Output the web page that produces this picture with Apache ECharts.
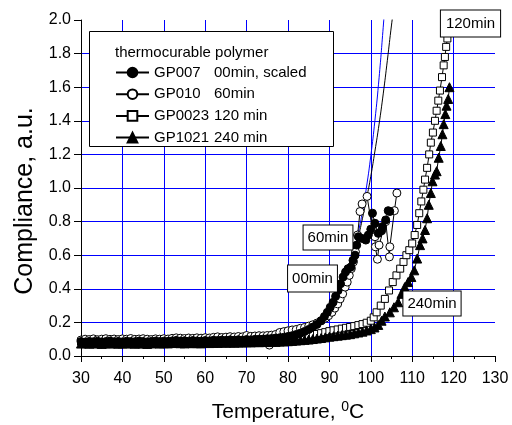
<!DOCTYPE html>
<html><head><meta charset="utf-8">
<script src="https://cdn.jsdelivr.net/npm/echarts/dist/echarts.min.js"></script>
<style>html,body{margin:0;padding:0;background:#fff}#c{width:512px;height:425px}</style>
</head><body><div id="c"></div>
<script>
const seriesNames = ['GP007', 'GP010', 'GP0023', 'GP1021'];
const seriesNotes = ['00min, scaled', '60min', '120 min', '240 min'];
const legendTitle = 'thermocurable polymer';
const annotations = ['60min', '00min', '240min', '120min'];

// GP007 00min, scaled (filled circles)
const gp007 = [[30,0.086],[31,0.083],[32,0.087],[33,0.085],[34,0.088],[35,0.084],[36,0.086],[37,0.089],[38,0.085],[39,0.087],[40,0.084],[41,0.088],[42,0.086],[43,0.085],[44,0.089],[45,0.086],[46,0.084],[47,0.087],[48,0.089],[49,0.086],[50,0.088],[51,0.087],[52,0.09],[53,0.093],[54,0.089],[55,0.091],[56,0.088],[57,0.092],[58,0.09],[59,0.089],[60,0.092],[61,0.09],[62,0.094],[63,0.092],[64,0.095],[65,0.093],[66,0.096],[67,0.094],[68,0.097],[69,0.095],[70,0.098],[71,0.096],[72,0.099],[73,0.1],[74,0.101],[75,0.103],[76,0.104],[77,0.107],[78,0.109],[79,0.112],[80,0.116],[81,0.121],[82,0.128],[83,0.136],[84,0.146],[85,0.158],[86,0.172],[87,0.188],[88,0.21],[88.8,0.235],[89.5,0.26],[90.2,0.29],[90.9,0.32],[91.5,0.355],[92.1,0.39],[92.7,0.43],[93.3,0.47],[93.9,0.5],[94.5,0.52],[95.2,0.53],[95.7,0.57],[96.2,0.6],[96.6,0.66],[97,0.71],[97.9,0.7],[98.8,0.69],[99.4,0.72],[100,0.755],[100.4,0.85],[101,0.79],[101.8,0.73],[102.6,0.745],[102.8,0.77],[103.6,0.81],[104.2,0.865],[104.6,0.86]];

// GP010 60min (open circles)
const gp010 = [[30,0.095],[31,0.1],[32,0.098],[33,0.102],[34,0.097],[35,0.1],[36,0.103],[37,0.099],[38,0.101],[39,0.098],[40,0.102],[41,0.1],[42,0.104],[43,0.099],[44,0.101],[45,0.103],[46,0.1],[47,0.098],[48,0.102],[49,0.1],[50,0.103],[51,0.101],[52,0.105],[53,0.108],[54,0.106],[55,0.104],[56,0.107],[57,0.105],[58,0.108],[59,0.106],[60,0.109],[61,0.107],[62,0.111],[63,0.114],[64,0.11],[65,0.112],[66,0.115],[67,0.113],[68,0.116],[69,0.114],[70,0.122],[71,0.117],[72,0.119],[73,0.121],[74,0.12],[75,0.122],[75.5,0.065],[76,0.124],[77,0.128],[78,0.14],[79,0.145],[80,0.15],[81,0.155],[82,0.158],[83,0.165],[84,0.17],[85,0.178],[86,0.186],[87,0.196],[88,0.21],[89,0.225],[89.8,0.24],[90.6,0.26],[91.3,0.285],[92,0.31],[92.6,0.34],[93.2,0.37],[93.8,0.41],[94.3,0.44],[94.8,0.48],[95.3,0.52],[95.8,0.56],[96.3,0.62],[96.8,0.72],[97.4,0.86],[97.9,0.905],[99.1,0.95],[100.4,0.75],[101,0.71],[101.1,0.65],[101.6,0.576],[102,0.66],[103.6,0.8],[104.5,0.59],[104.6,0.65],[105.7,0.865],[106.3,0.97]];

// GP0023 120 min (open squares)
const gp0023 = [[30,0.086],[31,0.084],[32,0.087],[33,0.083],[34,0.086],[35,0.085],[36,0.088],[37,0.084],[38,0.086],[39,0.083],[40,0.087],[41,0.085],[42,0.084],[43,0.087],[44,0.085],[45,0.083],[46,0.086],[47,0.084],[48,0.087],[49,0.085],[50,0.086],[51,0.084],[52,0.087],[53,0.089],[54,0.086],[55,0.085],[56,0.088],[57,0.086],[58,0.087],[59,0.085],[60,0.088],[61,0.087],[62,0.089],[63,0.088],[64,0.09],[65,0.089],[66,0.091],[67,0.09],[68,0.092],[69,0.091],[70,0.093],[71,0.092],[72,0.094],[73,0.095],[74,0.096],[75,0.097],[76,0.098],[77,0.1],[78,0.101],[79,0.103],[80,0.105],[81,0.108],[82,0.111],[83,0.114],[84,0.118],[85,0.122],[86,0.127],[87,0.131],[88,0.136],[89,0.142],[90,0.148],[91,0.153],[92,0.158],[93,0.163],[94,0.168],[95,0.173],[96,0.178],[97,0.184],[98,0.19],[99,0.198],[100,0.21],[100.7,0.23],[101.4,0.26],[102.4,0.3],[103.4,0.34],[104.4,0.39],[105.3,0.44],[106.2,0.48],[107.1,0.52],[107.9,0.56],[108.6,0.6],[109.3,0.63],[110,0.67],[110.6,0.72],[111.2,0.78],[111.7,0.85],[112.2,0.92],[112.7,0.99],[113.1,1.05],[113.6,1.12],[114.1,1.2],[114.5,1.27],[115,1.33],[115.5,1.4],[115.9,1.46],[116.3,1.52],[116.7,1.58],[117.2,1.66],[117.6,1.73],[117.9,1.78],[118.2,1.84],[118.5,1.89]];

// GP1021 240 min (filled triangles)
const gp1021 = [[30,0.074],[31,0.077],[32,0.073],[33,0.076],[34,0.075],[35,0.072],[36,0.076],[37,0.074],[38,0.077],[39,0.073],[40,0.075],[41,0.074],[42,0.077],[43,0.073],[44,0.076],[45,0.074],[46,0.072],[47,0.075],[48,0.077],[49,0.074],[50,0.076],[51,0.075],[52,0.077],[53,0.079],[54,0.076],[55,0.075],[56,0.078],[57,0.076],[58,0.077],[59,0.075],[60,0.078],[61,0.077],[62,0.079],[63,0.078],[64,0.08],[65,0.079],[66,0.08],[67,0.079],[68,0.081],[69,0.08],[70,0.082],[71,0.081],[72,0.083],[73,0.082],[74,0.084],[75,0.083],[76,0.085],[77,0.084],[78,0.086],[79,0.087],[80,0.088],[81,0.09],[82,0.092],[83,0.094],[84,0.096],[85,0.098],[86,0.101],[87,0.104],[88,0.107],[89,0.111],[90,0.115],[91,0.118],[92,0.121],[93,0.124],[94,0.127],[95,0.13],[96,0.135],[97,0.14],[98,0.145],[99,0.152],[100,0.16],[100.9,0.17],[101.8,0.185],[102.6,0.21],[103.4,0.235],[104.6,0.26],[105.6,0.29],[106.6,0.32],[107.4,0.37],[108.2,0.41],[109,0.44],[109.8,0.47],[110.5,0.51],[111.2,0.58],[111.9,0.66],[112.5,0.7],[113.1,0.75],[113.6,0.82],[114,0.9],[114.5,0.97],[114.9,1.04],[115.5,1.08],[115.9,1.1],[116.4,1.18],[116.9,1.25],[117.3,1.32],[117.6,1.38],[118,1.44],[118.3,1.49],[118.7,1.53],[119,1.6]];

// fitted curves
const fitBlue = [[30,0.08],[60,0.081],[70,0.086],[75,0.094],[80,0.114],[83,0.137],[86,0.176],[88,0.216],[90,0.273],[92,0.354],[94,0.469],[96,0.631],[97,0.737],[98,0.862],[99,1.012],[100,1.191],[101,1.403],[102,1.656],[103,1.957],[103.3,2.06]];
const fitBlack = [[30,0.085],[60,0.088],[70,0.093],[75,0.1],[80,0.113],[85,0.16],[88,0.21],[90,0.27],[92,0.35],[94,0.46],[96,0.62],[97,0.71],[98,0.82],[99,0.94],[100,1.07],[101,1.22],[102,1.38],[103,1.56],[104,1.76],[105,1.97],[105.5,2.06]];

const FONT = 'Liberation Sans, Arial, sans-serif';
const chart = echarts.init(document.getElementById('c'), null, {renderer: 'canvas'});

function dataSeries(name, data, symbol, size, fill) {
  return {
    name: name, type: 'line', data: data, symbol: symbol, symbolSize: size,
    showAllSymbol: true, animation: false,
    lineStyle: {color: '#000', width: 1},
    itemStyle: {color: fill, borderColor: '#000', borderWidth: 1, opacity: 1},
    emphasis: {disabled: true}, z: 3
  };
}

const option = {
  animation: false,
  backgroundColor: '#fff',
  grid: {left: 81, right: 17, top: 20, bottom: 69, containLabel: false, outerBoundsMode: 'none'},
  xAxis: {
    type: 'value', min: 30, max: 130, interval: 10,
    name: 'Temperature, {sup|0}C', nameLocation: 'middle', nameGap: 44,
    nameTextStyle: {fontFamily: FONT, fontSize: 21, color: '#000',
      rich: {sup: {fontFamily: FONT, fontSize: 14, color: '#000', verticalAlign: 'top', padding: [0, 0, 10, 0]}}},
    axisLine: {show: true, onZero: false, lineStyle: {color: '#000', width: 1}},
    axisTick: {show: true, inside: false, length: 6, lineStyle: {color: '#000'}},
    minorTick: {show: true, splitNumber: 2, length: 3, lineStyle: {color: '#000'}},
    axisLabel: {fontFamily: FONT, fontSize: 16, color: '#000', margin: 15},
    splitLine: {show: true, showMinLine: false, showMaxLine: false, lineStyle: {color: '#0000ff', width: 1}}
  },
  yAxis: {
    type: 'value', min: 0, max: 2, interval: 0.2,
    name: 'Compliance, a.u.', nameLocation: 'middle', nameGap: 37,
    nameTextStyle: {fontFamily: FONT, fontSize: 25, color: '#000', padding: [0, 26, 0, 0]},
    axisLine: {show: true, onZero: false, lineStyle: {color: '#000', width: 1}},
    axisTick: {show: true, inside: false, length: 7, lineStyle: {color: '#000'}},
    axisLabel: {fontFamily: FONT, fontSize: 16, color: '#000', margin: 10,
      formatter: v => v.toFixed(1)},
    splitLine: {show: true, showMinLine: false, showMaxLine: false, lineStyle: {color: '#0000ff', width: 1}}
  },
  legend: {
    data: seriesNames, orient: 'vertical', left: 115, top: 65,
    itemWidth: 33, itemHeight: 12, itemGap: 6.7, z: 10,
    selectedMode: false, padding: 0,
    formatter: name => '{a|' + name + '}{b|' + seriesNotes[seriesNames.indexOf(name)] + '}',
    textStyle: {fontFamily: FONT, fontSize: 15, color: '#000', lineHeight: 12,
      rich: {a: {fontFamily: FONT, fontSize: 15, color: '#000', width: 60, lineHeight: 12},
             b: {fontFamily: FONT, fontSize: 15, color: '#000', lineHeight: 12}}}
  },
  graphic: [
    {type: 'rect', shape: {x: 89.5, y: 31.5, width: 244, height: 115}, style: {fill: '#fff', stroke: '#000', lineWidth: 1}, z: 5},
    {type: 'text', x: 115, y: 53, style: {text: legendTitle, font: '15px ' + FONT, fill: '#000', verticalAlign: 'middle'}, z: 11},
    {type: 'text', x: 328, y: 237.5, style: {text: annotations[0], font: '15px ' + FONT, fill: '#000', align: 'center', verticalAlign: 'middle', backgroundColor: '#fff', borderColor: '#000', borderWidth: 1, padding: [5, 4, 4, 4]}, z: 11},
    {type: 'text', x: 312.5, y: 278.5, style: {text: annotations[1], font: '15px ' + FONT, fill: '#000', align: 'center', verticalAlign: 'middle', backgroundColor: '#fff', borderColor: '#000', borderWidth: 1, padding: [6, 4, 5, 4]}, z: 11},
    {type: 'text', x: 432, y: 303.5, style: {text: annotations[2], font: '15px ' + FONT, fill: '#000', align: 'center', verticalAlign: 'middle', backgroundColor: '#fff', borderColor: '#000', borderWidth: 1, padding: [5, 4, 4, 4]}, z: 11},
    {type: 'text', x: 470.5, y: 23.5, style: {text: annotations[3], font: '15px ' + FONT, fill: '#000', align: 'center', verticalAlign: 'middle', backgroundColor: '#fff', borderColor: '#000', borderWidth: 1, padding: [6, 5, 5, 5]}, z: 11}
  ],
  series: [
    {name: 'fitBlue', type: 'line', data: fitBlue, smooth: true, symbol: 'none', lineStyle: {color: '#0000ff', width: 1}, emphasis: {disabled: true}, z: 2},
    {name: 'fitBlack', type: 'line', data: fitBlack, smooth: true, symbol: 'none', lineStyle: {color: '#000', width: 1}, emphasis: {disabled: true}, z: 2},
    dataSeries(seriesNames[2], gp0023, 'rect', 7, '#fff'),
    dataSeries(seriesNames[1], gp010, 'circle', 8, '#fff'),
    dataSeries(seriesNames[0], gp007, 'circle', 8, '#000'),
    dataSeries(seriesNames[3], gp1021, 'triangle', 9, '#000')
  ]
};
chart.setOption(option);
</script>
</body></html>
